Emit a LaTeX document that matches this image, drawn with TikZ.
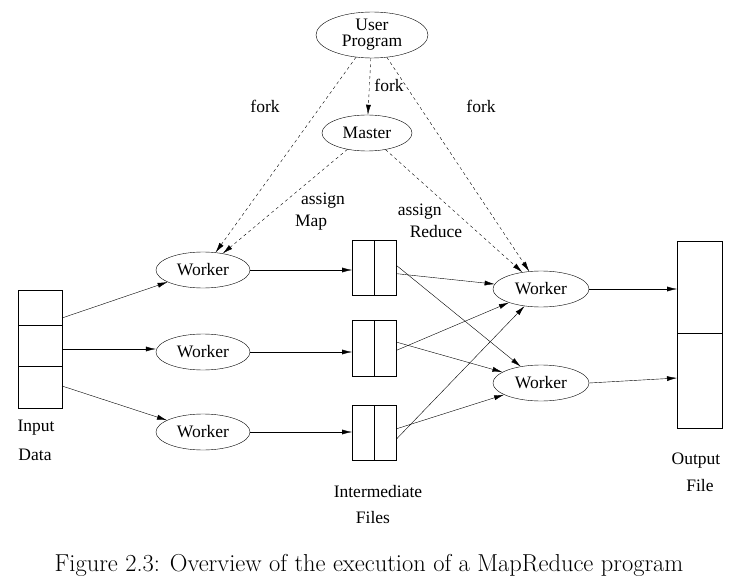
\documentclass[tikz,border=0pt]{standalone}
\usepackage{fontspec}
\setmainfont{Liberation Serif}
\newfontfamily\capfont{Latin Modern Roman}
\usetikzlibrary{positioning, arrows.meta, shapes.geometric}

\begin{document}
\begin{tikzpicture}[
                    x=1pt, y=-1pt,
                    >={Latex[length=10pt,width=5pt]},
                    every node/.style={font=\fontsize{17.5}{19}\selectfont},
                    proc/.style={draw, ellipse, minimum width=94pt, minimum height=36pt, inner sep=0pt},
                    cell/.style={draw, minimum width=22pt, inner sep=0pt},
                    txt/.style={align=center, inner sep=0pt}
                ]
                  \useasboundingbox (0,0) rectangle (739,583);
                  % control
                  \node[proc, minimum width=112pt, minimum height=46pt, txt] (user) at (372,35) {User\\[-3pt]Program};
                  \node[proc, minimum width=90pt] (master) at (367,133) {Master};
                  % map workers
                  \node[proc] (w1) at (203,270) {Worker};
                  \node[proc] (w2) at (203,352) {Worker};
                  \node[proc] (w3) at (203,432) {Worker};
                  % reduce workers
                  \node[proc, minimum width=96pt] (r1) at (541,289) {Worker};
                  \node[proc, minimum width=96pt] (r2) at (541,383) {Worker};
                  % input data
                  \draw (18,290) rectangle (62,408);
                  \draw (18,325) -- (62,325) (18,366) -- (62,366);
                  \coordinate (in1) at (62,318);
                  \coordinate (in2) at (62,349);
                  \coordinate (in3) at (62,386);
                  \node[txt] (inlab) at (36,428) {Input};
                  \node[txt] (inlab2) at (35,455) {Data};
                  % intermediate files
                  \foreach \n/\y/\h in {f1/240/55, f2/320/56, f3/405/55} {
                      \node[cell, anchor=north west, minimum height=\h pt] (\n a) at (352,\y) {};
                      \node[cell, anchor=north west, minimum height=\h pt] (\n b) at (\n a.north east) {};
                  }
                  \node[txt] (midlab) at (378,492) {Intermediate};
                  \node[txt] (midlab2) at (373,518) {Files};
                  % output file
                  \draw (677,241) rectangle (722,428);
                  \draw (677,333) -- (722,333);
                  \coordinate (out1) at (677,289);
                  \coordinate (out2) at (677,378);
                  \node[txt] (outlab) at (696,461) {Output};
                  \node[txt] (outlab2) at (700,486) {File};
                  % fork / assign
                  \draw[dashed, ->] (user) -- (w1);
                  \draw[dashed, ->] (user) -- (master);
                  \draw[dashed, ->] (user) -- (r1);
                  \draw[dashed, ->] (master) -- (w1);
                  \draw[dashed, ->] (master) -- (r1);
                  \node[txt] (fk1) at (265,106) {fork};
                  \node[txt] (fk2) at (389,85) {fork};
                  \node[txt] (fk3) at (481,106) {fork};
                  \node[txt, align=left] (am) at (320,212) {\hspace*{6pt}assign\\[3pt]Map};
                  \node[txt, align=left] (ar) at (430,221) {assign\\[3pt]\hspace*{12pt}Reduce};
                  % data flow
                  \draw[->] (in1) -- (w1);
                  \draw[->] (in2) -- (in2 -| w2.west);
                  \draw[->] (in3) -- (w3);
                  \draw[->] (w1.east) -- (w1 -| f1a.west);
                  \draw[->] (w2.east) -- (w2 -| f2a.west);
                  \draw[->] (w3.east) -- (w3 -| f3a.west);
                  \draw[->] ([yshift=-6pt]f1b.east) -- (r1);
                  \draw[->] ([yshift=2pt]f1b.east) -- (r2);
                  \draw[->] ([yshift=-2pt]f2b.east) -- (r1);
                  \draw[->] ([yshift=6pt]f2b.east) -- (r2);
                  \draw[->] ([yshift=-6pt]f3b.east) -- (r1);
                  \draw[->] ([yshift=4pt]f3b.east) -- (r2);
                  \draw[->] (r1.east) -- (out1);
                  \draw[->] (r2.east) -- (out2);
                  % caption
                  \node[font=\capfont\fontsize{24.5}{26}\selectfont] (cap) at (369,565) {Figure 2.3: Overview of the execution of a MapReduce program};
                \end{tikzpicture}
\end{document}
